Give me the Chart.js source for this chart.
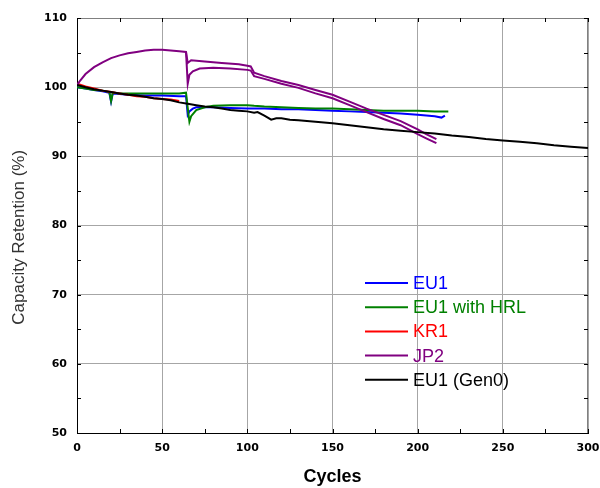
<!DOCTYPE html>
<html>
<head>
<meta charset="utf-8">
<script src="https://cdn.jsdelivr.net/npm/chart.js@4.4.0/dist/chart.umd.min.js"></script>
<style>
    html, body { margin: 0; padding: 0; background: #fff; }
    #wrap { width: 600px; height: 488px; position: relative; }
</style>
</head>
<body>
<div id="wrap"><canvas id="retention-chart"></canvas></div>
<script>
// EU1
const eu1Cycles = [0, 5, 10, 15, 19, 20, 21, 25, 30, 40, 50, 60, 64, 65, 66, 68, 70, 80, 90, 100, 110, 120, 130, 140, 150, 160, 170, 180, 190, 200, 210, 214, 216];
const eu1Values = [100.0, 99.8, 99.6, 99.4, 99.2, 97.9, 99.1, 99.0, 98.9, 98.8, 98.8, 98.7, 98.7, 96.0, 96.5, 96.9, 97.1, 97.1, 97.0, 96.9, 96.9, 96.8, 96.8, 96.7, 96.6, 96.5, 96.4, 96.3, 96.2, 96.0, 95.8, 95.6, 95.9];

// EU1 with HRL
const hrlCycles = [0, 5, 10, 15, 19, 20, 21, 25, 30, 40, 50, 60, 64, 65, 66, 67, 70, 75, 80, 90, 100, 104, 110, 120, 130, 140, 150, 160, 170, 180, 190, 200, 210, 218];
const hrlValues = [100.0, 99.8, 99.6, 99.5, 99.3, 98.0, 99.2, 99.1, 99.1, 99.1, 99.1, 99.1, 99.2, 97.0, 95.0, 95.8, 96.7, 97.1, 97.3, 97.4, 97.4, 97.3, 97.2, 97.1, 97.0, 96.9, 96.9, 96.8, 96.7, 96.6, 96.6, 96.6, 96.5, 96.5];

// KR1
const kr1Cycles = [0, 5, 10, 15, 20, 25, 30, 35, 40, 45, 50, 55, 60];
const kr1Values = [100.5, 100.1, 99.8, 99.5, 99.3, 99.1, 98.9, 98.7, 98.6, 98.4, 98.3, 98.2, 98.0];

// JP2 (two traces drawn under one legend entry)
const jp2UpperCycles = [0, 2, 5, 10, 15, 20, 25, 30, 35, 40, 45, 50, 55, 60, 64, 65, 67, 75, 85, 95, 100, 102, 104, 110, 120, 130, 140, 150, 160, 170, 180, 190, 200, 205, 211];
const jp2UpperValues = [100.3, 101.0, 101.9, 102.9, 103.6, 104.2, 104.6, 104.9, 105.1, 105.3, 105.4, 105.4, 105.3, 105.2, 105.1, 103.5, 103.9, 103.7, 103.5, 103.3, 103.1, 103.0, 102.1, 101.6, 100.9, 100.3, 99.6, 98.9, 97.9, 96.9, 96.0, 95.1, 93.9, 93.2, 92.5];
const jp2LowerCycles = [64, 65, 66, 68, 72, 80, 90, 100, 102, 104, 110, 120, 130, 140, 150, 160, 170, 180, 190, 200, 205, 211];
const jp2LowerValues = [105.1, 100.5, 101.8, 102.3, 102.7, 102.8, 102.7, 102.5, 102.4, 101.6, 101.2, 100.5, 99.9, 99.1, 98.4, 97.4, 96.4, 95.4, 94.5, 93.2, 92.6, 91.9];

// EU1 (Gen0)
const gen0Cycles = [0, 5, 10, 15, 20, 25, 30, 35, 40, 45, 50, 55, 60, 65, 70, 75, 80, 85, 90, 95, 100, 104, 106, 110, 112, 114, 117, 120, 125, 130, 140, 150, 160, 170, 180, 190, 200, 210, 220, 230, 240, 250, 260, 270, 280, 290, 300];
const gen0Values = [100.3, 100.0, 99.7, 99.5, 99.3, 99.1, 98.9, 98.8, 98.6, 98.4, 98.3, 98.1, 97.8, 97.6, 97.4, 97.2, 97.1, 96.9, 96.7, 96.6, 96.5, 96.3, 96.4, 95.9, 95.6, 95.3, 95.5, 95.5, 95.3, 95.2, 95.0, 94.8, 94.5, 94.2, 93.9, 93.7, 93.5, 93.3, 93.0, 92.8, 92.5, 92.3, 92.1, 91.9, 91.6, 91.4, 91.2];

function toPoints(cycles, values) {
    return cycles.map((c, i) => ({ x: c, y: values[i] }));
}

// legend drawn inside the plot area
const insideLegend = {
    id: 'insideLegend',
    afterDatasetsDraw(chart) {
        const ctx = chart.ctx;
        ctx.save();
        ctx.font = '18px "Liberation Sans", Arial, sans-serif';
        ctx.textBaseline = 'middle';
        ctx.textAlign = 'left';
        let y = 283;
        chart.data.datasets.forEach(ds => {
            if (ds.inLegend === false) return;
            ctx.strokeStyle = ds.borderColor;
            ctx.lineWidth = 2;
            ctx.beginPath();
            ctx.moveTo(365, y);
            ctx.lineTo(408, y);
            ctx.stroke();
            ctx.fillStyle = ds.borderColor;
            ctx.fillText(ds.label, 413, y + 1);
            y += 24.2;
        });
        ctx.restore();
    }
};

// gray top/right frame + small inward ticks on every side
const frameTicks = {
    id: 'frameTicks',
    beforeDatasetsDraw(chart) {
        const { ctx, chartArea: a, scales: { x, y } } = chart;
        ctx.save();
        ctx.lineWidth = 1;
        ctx.strokeStyle = '#808080';
        ctx.beginPath();
        ctx.moveTo(a.left, a.top + 0.5);
        ctx.lineTo(a.right - 0.5, a.top + 0.5);
        ctx.lineTo(a.right - 0.5, a.bottom);
        ctx.stroke();
        ctx.strokeStyle = '#000';
        ctx.beginPath();
        x.ticks.forEach(t => {
            const px = Math.round(x.getPixelForValue(t.value)) + 0.5;
            ctx.moveTo(px, a.bottom); ctx.lineTo(px, a.bottom - 4);
            ctx.moveTo(px, a.top); ctx.lineTo(px, a.top + 4);
        });
        y.ticks.forEach(t => {
            const py = Math.round(y.getPixelForValue(t.value)) + 0.5;
            ctx.moveTo(a.left, py); ctx.lineTo(a.left + 4, py);
            ctx.moveTo(a.right, py); ctx.lineTo(a.right - 4, py);
        });
        ctx.stroke();
        ctx.restore();
    }
};

const tickFont = { family: '"DejaVu Sans", sans-serif', weight: 'bold', size: 11 };

const ctx = document.getElementById('retention-chart').getContext('2d');
const retentionChart = new Chart(ctx, {
    type: 'line',
    data: {
        datasets: [
            { label: 'EU1', data: toPoints(eu1Cycles, eu1Values), borderColor: '#0000ff', order: 4 },
            { label: 'EU1 with HRL', data: toPoints(hrlCycles, hrlValues), borderColor: '#008000', order: 3 },
            { label: 'KR1', data: toPoints(kr1Cycles, kr1Values), borderColor: '#ff0000', order: 2 },
            { label: 'JP2', data: toPoints(jp2UpperCycles, jp2UpperValues), borderColor: '#800080', order: 1 },
            { label: 'JP2', data: toPoints(jp2LowerCycles, jp2LowerValues), borderColor: '#800080', order: 1, inLegend: false },
            { label: 'EU1 (Gen0)', data: toPoints(gen0Cycles, gen0Values), borderColor: '#000000', order: 0 }
        ]
    },
    options: {
        responsive: true,
        maintainAspectRatio: false,
        animation: false,
        layout: { padding: { top: 18, right: 12, left: 0, bottom: 0 } },
        elements: {
            point: { radius: 0 },
            line: { borderWidth: 2, tension: 0 }
        },
        plugins: {
            legend: { display: false },
            tooltip: { enabled: false }
        },
        scales: {
            x: {
                type: 'linear',
                min: 0,
                max: 300,
                afterFit: s => { s.height = 55; s.paddingLeft = 0; s.paddingRight = 0; },
                border: { color: '#000', width: 1 },
                grid: {
                    drawTicks: false,
                    color: c => (c.tick && c.tick.value % 50 === 0) ? '#a6a6a6' : 'rgba(0,0,0,0)'
                },
                ticks: {
                    stepSize: 25,
                    autoSkip: false,
                    maxRotation: 0,
                    padding: 9,
                    color: '#000',
                    font: tickFont,
                    callback: v => (v % 50 === 0 ? v : '')
                },
                title: {
                    display: true,
                    text: 'Cycles',
                    color: '#000',
                    font: { family: '"Liberation Sans", Arial, sans-serif', weight: 'bold', size: 18 },
                    padding: { top: 0, bottom: 0 }
                }
            },
            y: {
                min: 50,
                max: 110,
                afterFit: s => { s.width = 77; s.paddingTop = 0; s.paddingBottom = 0; },
                border: { color: '#000', width: 1 },
                grid: {
                    drawTicks: false,
                    color: c => (c.tick && c.tick.value % 10 === 0) ? '#a6a6a6' : 'rgba(0,0,0,0)'
                },
                ticks: {
                    stepSize: 5,
                    autoSkip: false,
                    padding: 10,
                    color: '#000',
                    font: tickFont,
                    callback: v => (v % 10 === 0 ? v : '')
                },
                title: {
                    display: true,
                    text: 'Capacity Retention (%)     ',
                    color: '#333',
                    font: { family: '"Liberation Sans", Arial, sans-serif', size: 17 },
                    padding: { top: 9, bottom: 0 }
                }
            }
        }
    },
    plugins: [frameTicks, insideLegend]
});
</script>
</body>
</html>
